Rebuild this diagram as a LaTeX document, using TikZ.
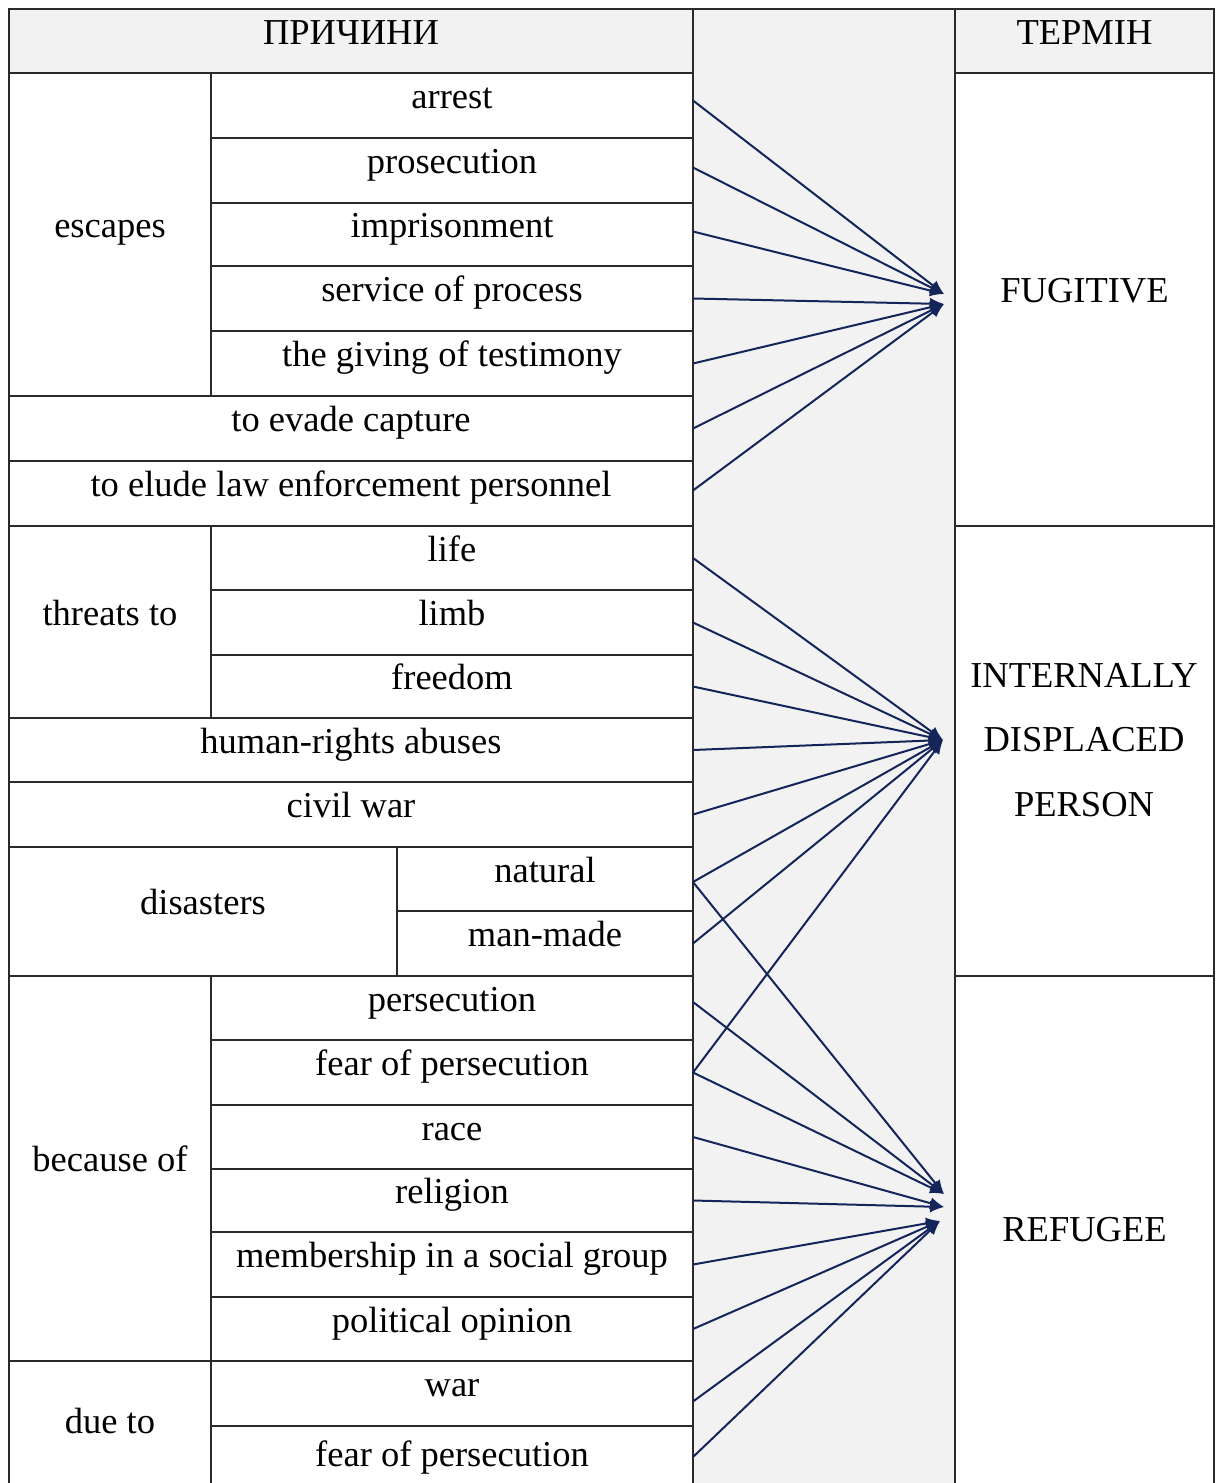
\documentclass[tikz,border=0pt]{standalone}
\usepackage{fontspec}
\setmainfont{Liberation Serif}
\usetikzlibrary{arrows.meta}
\definecolor{hdrgray}{HTML}{F2F2F2}
\definecolor{rulec}{HTML}{2A2A2A}
\definecolor{navy}{HTML}{14255A}

% table cell from (x1,y1) to (x2,y2) in pixel-like units: name, x1, y1, x2, y2, text
\newcommand\tcell[7][cell]{%
  \pgfmathsetmacro\cw{#5-#3}\pgfmathsetmacro\ch{#6-#4}%
  \node[#1, minimum width=\cw pt, minimum height=\ch pt] (#2) at ({(#3+#5)/2},{(#4+#6)/2}) {#7};}

\begin{document}
\begin{tikzpicture}[x=1pt,y=-1pt,
  cell/.style={draw=rulec, line width=1.6pt, fill=white, inner sep=0pt, outer sep=0pt,
    font=\fontsize{36.5}{44}\selectfont, text height=20pt, text depth=14pt},
  head/.style={cell, fill=hdrgray},
  termtext/.style={inner sep=0pt, align=center, font=\fontsize{36.5}{64.5}\selectfont},
  conn/.style={draw=navy, line width=2pt, -{Latex[length=14pt,width=12pt]}}]

\useasboundingbox (0,0) rectangle (1216,1483);
\clip (0,0) rectangle (1216,1483);
\fill[white] (0,0) rectangle (1216,1483);

% middle column and headers
\tcell[head]{mid}{693}{9}{955}{1500}{}
\tcell[head]{hcause}{9}{9}{693}{73}{ПРИЧИНИ}
\tcell[head]{hterm}{955}{9}{1214}{73}{ТЕРМІН}

% causes: escapes
\tcell{escapes}{9}{73}{211}{396}{escapes}
\tcell{arrest}{211}{73}{693}{138}{arrest}
\tcell{prosec}{211}{138}{693}{203}{prosecution}
\tcell{impris}{211}{203}{693}{266}{imprisonment}
\tcell{service}{211}{266}{693}{331}{service of process}
\tcell{testim}{211}{331}{693}{396}{the giving of testimony}
\tcell{evade}{9}{396}{693}{461}{to evade capture}
\tcell{elude}{9}{461}{693}{526}{to elude law enforcement personnel}

% causes: threats
\tcell{threats}{9}{526}{211}{718}{threats to}
\tcell{life}{211}{526}{693}{590}{life}
\tcell{limb}{211}{590}{693}{655}{limb}
\tcell{freedom}{211}{655}{693}{718}{freedom}
\tcell{abuses}{9}{718}{693}{782}{human-rights abuses}
\tcell{civil}{9}{782}{693}{847}{civil war}
\tcell{disast}{9}{847}{397}{976}{disasters}
\tcell{natural}{397}{847}{693}{911}{natural}
\tcell{manmade}{397}{911}{693}{976}{man-made}

% causes: because of / due to
\tcell{because}{9}{976}{211}{1361}{because of}
\tcell{persec}{211}{976}{693}{1040}{persecution}
\tcell{fearA}{211}{1040}{693}{1105}{fear of persecution}
\tcell{race}{211}{1105}{693}{1169}{race}
\tcell{relig}{211}{1169}{693}{1232}{religion}
\tcell{member}{211}{1232}{693}{1297}{membership in a social group}
\tcell{polit}{211}{1297}{693}{1361}{political opinion}
\tcell{dueto}{9}{1361}{211}{1500}{due to}
\tcell{war}{211}{1361}{693}{1426}{war}
\tcell{fearB}{211}{1426}{693}{1500}{fear of persecution}

% terms
\tcell{fugitive}{955}{73}{1214}{526}{FUGITIVE}
\tcell{idpcell}{955}{526}{1214}{976}{}
\node[termtext] (idp) at (1084,740) {INTERNALLY\\DISPLACED\\PERSON};
\tcell{refugee}{955}{976}{1214}{1500}{REFUGEE}

% arrow targets
\coordinate (fugA) at (944,294);
\coordinate (fugB) at (944,304);
\coordinate (idpT) at (943,740);
\coordinate (refA) at (944,1194);
\coordinate (refB) at (944,1207);
\coordinate (refC) at (940,1221);

% connectors to FUGITIVE
\draw[conn] ([yshift=5pt]arrest.east) -- (fugA);
\draw[conn] ([yshift=3pt]prosec.east) -- (fugA);
\draw[conn] ([yshift=3pt]impris.east) -- (fugA);
\draw[conn] (service.east) -- (fugB);
\draw[conn] (testim.east) -- (fugB);
\draw[conn] (evade.east) -- (fugB);
\draw[conn] ([yshift=3pt]elude.east) -- (fugB);

% connectors to INTERNALLY DISPLACED PERSON
\draw[conn] (life.east) -- (idpT);
\draw[conn] (limb.east) -- (idpT);
\draw[conn] (freedom.east) -- (idpT);
\draw[conn] (abuses.east) -- (idpT);
\draw[conn] (civil.east) -- (idpT);
\draw[conn] ([yshift=-3pt]natural.east) -- (idpT);
\draw[conn] (manmade.east) -- (idpT);
\draw[conn] (fearA.east) -- (idpT);

% connectors to REFUGEE
\draw[conn] ([yshift=-3pt]natural.east) -- (refA);
\draw[conn] ([yshift=6pt]persec.east) -- (refA);
\draw[conn] (fearA.east) -- (refA);
\draw[conn] (race.east) -- (refB);
\draw[conn] (relig.east) -- (refB);
\draw[conn] (member.east) -- (refC);
\draw[conn] (polit.east) -- (refC);
\draw[conn] ([yshift=-8pt]war.east) -- (refC);
\draw[conn] ([yshift=6pt]fearB.east) -- (refC);
\end{tikzpicture}
\end{document}
